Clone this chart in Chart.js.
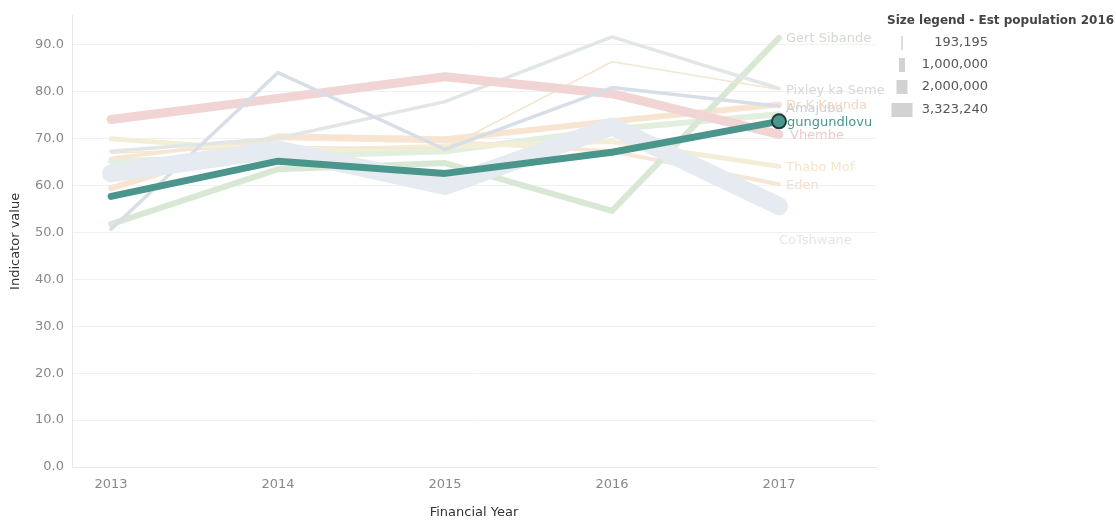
<!DOCTYPE html>
<html>
<head>
<meta charset="utf-8">
<script src="https://cdn.jsdelivr.net/npm/chart.js@4"></script>
<style>
  html, body { margin: 0; padding: 0; background: #fff; }
  #wrap { position: relative; width: 1116px; height: 525px; }
</style>
</head>
<body>
<div id="wrap"><canvas id="indicatorChart"></canvas></div>
<script>
// Financial years on the x axis
const years = [2013, 2014, 2015, 2016, 2017];

// Indicator values per district
const uMgungundlovu = [57.7, 65.2, 62.6, 67.1, 73.7];
const vhembe = [74.1, 78.6, 83.2, 79.6, 70.9];
const amajuba = [50.7, 84.1, 67.7, 80.9, 76.9];
const pixleyKaSeme = [67.3, 70.1, 77.9, 91.7, 80.7];
const thinBeige = [66.9, 68.4, 67.9, 86.4, 80.5];
const gertSibande = [51.8, 63.5, 64.8, 54.6, 91.5];
const coTshwane = [62.6, 67.7, 59.9, 72.6, 55.6];
const drKKaunda = [59.4, 70.5, 69.9, 73.7, 77.3];
const thaboMof = [70.0, 67.3, 68.4, 69.4, 64.1];
const eden = [65.8, 70.1, 69.4, 67.3, 60.3];
const lightGreen = [65.2, 66.2, 67.3, 72.0, 75.2];

// Size legend entries
const sizeLegendValues = ["193,195", "1,000,000", "2,000,000", "3,323,240"];

const yTicks = [0, 10, 20, 30, 40, 50, 60, 70, 80, 90];

// series: label text, data, colour, width, label colour, label shift
const series = [
    { name: "gungundlovu", data: uMgungundlovu, color: "#4a968c", width: 7, labelColor: "#4a968c", dy: 1, dx: 8, order: 0 },
    { name: "CoTshwane", data: coTshwane, color: "#e5ebf1", width: 18, labelColor: "#e2e6eb", dy: 34, dx: 0, order: 1 },
    { name: "Amajuba", data: amajuba, color: "#d8dee6", width: 3.5, labelColor: "#c9ced5", dy: 2, dx: 7, order: 2 },
    { name: "Vhembe", data: vhembe, color: "#f1d4d4", width: 9, labelColor: "#efcaca", dy: 1, dx: 11, order: 3 },
    { name: "Pixley ka Seme", data: pixleyKaSeme, color: "#e0e7e4", width: 3.5, labelColor: "#d3d9d8", dy: 2, dx: 7, order: 4 },
    { name: "", data: thinBeige, color: "#f2e7d0", width: 1.5, labelColor: "#f2e7d0", dy: 0, dx: 7, order: 5 },
    { name: "Gert Sibande", data: gertSibande, color: "#d9e7d5", width: 6, labelColor: "#d0dbcc", dy: 1, dx: 7, order: 6 },
    { name: "Dr K Kaunda", data: drKKaunda, color: "#f8e5d1", width: 6, labelColor: "#f4d6bf", dy: 1, dx: 7, order: 7 },
    { name: "Thabo Mof", data: thaboMof, color: "#f5eed6", width: 5, labelColor: "#f3e6c9", dy: 1, dx: 7, order: 8 },
    { name: "Eden", data: eden, color: "#f8e6d5", width: 4, labelColor: "#f5ddc9", dy: 1, dx: 7, order: 9 },
    { name: "", data: lightGreen, color: "#e2efdf", width: 6, labelColor: "#e2efdf", dy: 0, dx: 7, order: 10 }
];

const fontFamily = "'DejaVu Sans', sans-serif";

// End-of-line labels and the size legend
const labelsPlugin = {
    id: "endLabels",
    afterDatasetsDraw(chart) {
        const ctx = chart.ctx;
        const xs = chart.scales.x;
        const ys = chart.scales.y;
        ctx.save();
        ctx.font = "13px " + fontFamily;
        ctx.textBaseline = "middle";
        ctx.textAlign = "left";
        series.forEach(s => {
            if (!s.name) return;
            const last = s.data[s.data.length - 1];
            ctx.fillStyle = s.labelColor;
            ctx.fillText(s.name, xs.getPixelForValue(years[years.length - 1]) + s.dx, ys.getPixelForValue(last) + s.dy);
        });

        // size legend
        ctx.fillStyle = "#444";
        ctx.font = "bold 12px " + fontFamily;
        ctx.fillText("Size legend - Est population 2016", 887, 21);
        const barW = [1.5, 6, 11, 21];
        const rowY = [43, 65, 87, 110];
        ctx.font = "13px " + fontFamily;
        ctx.textAlign = "right";
        sizeLegendValues.forEach((v, i) => {
            ctx.fillStyle = "#d2d2d2";
            ctx.fillRect(902 - barW[i] / 2, rowY[i] - 7, barW[i], 14);
            ctx.fillStyle = "#555";
            ctx.fillText(v, 988, rowY[i]);
        });
        ctx.restore();
    }
};

const datasets = series.map(s => ({
    label: s.name,
    data: s.data.map((v, i) => ({ x: years[i], y: v })),
    borderColor: s.color,
    backgroundColor: s.color,
    borderWidth: s.width,
    borderCapStyle: "round",
    borderJoinStyle: "round",
    tension: 0,
    order: s.order,
    pointRadius: s.order === 0 ? [0, 0, 0, 0, 7] : 0,
    pointBackgroundColor: "#4a968c",
    pointBorderColor: "#1f3a37",
    pointBorderWidth: 2,
    fill: false
}));

new Chart(document.getElementById("indicatorChart"), {
    type: "line",
    data: { datasets: datasets },
    options: {
        responsive: true,
        maintainAspectRatio: false,
        animation: false,
        layout: { padding: { top: 1, right: 240, left: 0, bottom: 0 } },
        plugins: { legend: { display: false }, tooltip: { enabled: false } },
        scales: {
            x: {
                type: "linear",
                min: 2012.766,
                max: 2017.581,
                afterFit: scale => { scale.height = 58; },
                ticks: {
                    stepSize: 1,
                    includeBounds: false,
                    padding: 10,
                    color: "#888",
                    font: { family: fontFamily, size: 13 },
                    callback: v => String(v)
                },
                grid: { color: "rgba(0,0,0,0)", drawTicks: false },
                border: { color: "#e8e8e8" },
                title: {
                    display: true,
                    text: "Financial Year",
                    color: "#333",
                    font: { family: fontFamily, size: 13 },
                    padding: { top: 0, bottom: 4.5 }
                }
            },
            y: {
                min: 0,
                max: 96.2,
                afterFit: scale => { scale.width = 72; },
                afterBuildTicks: scale => { scale.ticks = yTicks.map(v => ({ value: v })); },
                ticks: {
                    padding: 8,
                    color: "#888",
                    font: { family: fontFamily, size: 13 },
                    callback: v => v.toFixed(1)
                },
                grid: { color: "#f1f1f1", drawTicks: false },
                border: { color: "#e8e8e8" },
                title: {
                    display: true,
                    text: "Indicator value",
                    color: "#333",
                    font: { family: fontFamily, size: 13 },
                    padding: { top: 8, bottom: 0 }
                }
            }
        }
    },
    plugins: [labelsPlugin]
});
</script>
</body>
</html>
